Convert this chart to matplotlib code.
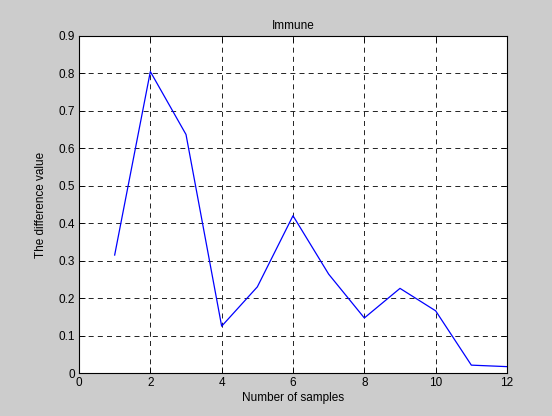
import matplotlib
matplotlib.use("Agg")
import matplotlib.pyplot as plt

samples = [1, 2, 3, 4, 5, 6, 7, 8, 9, 10, 11, 12]
diff_values = [0.315, 0.805, 0.637, 0.125, 0.23, 0.42, 0.264, 0.147, 0.226, 0.166, 0.021, 0.017]
x_ticks = [0, 2, 4, 6, 8, 10, 12]
y_ticks = [0, 0.1, 0.2, 0.3, 0.4, 0.5, 0.6, 0.7, 0.8, 0.9]
y_tick_labels = ["0", "0.1", "0.2", "0.3", "0.4", "0.5", "0.6", "0.7", "0.8", "0.9"]

plt.rcParams['font.family'] = ['Liberation Sans', 'DejaVu Sans']

fig = plt.figure(figsize=(5.52, 4.16), dpi=100, facecolor='#cccccc')
ax = fig.add_axes([79/552, 1 - 373/416, (507-79)/552, (373-36)/416])
ax.set_facecolor('white')

ax.plot(samples, diff_values, color='#0000ff', lw=0.9)

ax.set_xlim(0, 12)
ax.set_ylim(0, 0.9)
ax.set_xticks(x_ticks)
ax.set_xticklabels([str(t) for t in x_ticks])
ax.set_yticks(y_ticks)
ax.set_yticklabels(y_tick_labels)

ax.grid(True, color='black', linestyle=(0, (6, 5)), linewidth=0.6)
ax.tick_params(direction='in', length=4, width=0.6, labelsize=8.5, colors='black',
               top=True, right=True, pad=3)
for s in ax.spines.values():
    s.set_linewidth(0.8)
    s.set_color('black')

ax.set_title('Immune', fontsize=8.5, pad=5)
ax.set_xlabel('Number of samples', fontsize=8.5, labelpad=2)
ax.set_ylabel('The difference value', fontsize=8.5, labelpad=8)

fig.savefig('out.png', dpi=100, facecolor=fig.get_facecolor())
